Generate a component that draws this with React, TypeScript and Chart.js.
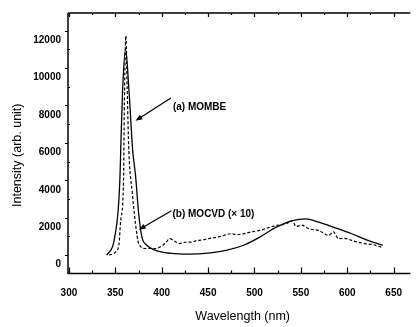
import React, { useEffect, useRef } from "react";
import { Chart, registerables } from "chart.js";

Chart.register(...registerables);

// (a) MOMBE – solid line
const mombeWavelength = [340.6, 346.9, 348.7, 353.3, 355.1, 355.8, 357.9, 361.1, 364.6, 368.8, 371.7, 375.2, 378.7, 384.0, 392.9, 410.5, 428.1, 452.8, 470.5, 488.2, 505.8, 523.4, 541.1, 555.2, 569.3, 587.0, 604.7, 622.3, 638.1];
const mombeIntensity = [0, 440, 790, 2550, 4310, 5545, 8890, 11000, 8890, 5545, 4310, 2200, 965, 530, 265, 90, 50, 120, 265, 530, 965, 1495, 1850, 1940, 1760, 1460, 1145, 790, 530];

// (b) MOCVD (x10) – dashed line
const mocvdWavelength = [343.4, 350.5, 354.0, 355.8, 359.0, 359.3, 360.0, 361.4, 362.8, 364.6, 368.1, 371.7, 375.2, 382.3, 392.9, 403.5, 408.8, 414.0, 419.4, 425.0, 431.6, 438.0, 445.8, 452.0, 459.9, 467.0, 474.0, 481.0, 488.2, 497.0, 505.8, 514.0, 523.4, 534.0, 541.1, 544.6, 551.0, 558.7, 569.3, 579.9, 585.0, 590.5, 597.0, 604.7, 611.0, 618.8, 628.0, 638.1];
const mocvdIntensity = [0, 175, 620, 1850, 4310, 6070, 8890, 11720, 8890, 5545, 3430, 1690, 620, 355, 355, 620, 880, 740, 620, 690, 700, 780, 830, 900, 965, 1050, 1145, 1100, 1145, 1250, 1320, 1450, 1585, 1675, 1850, 1530, 1600, 1410, 1320, 1055, 1250, 880, 900, 790, 700, 620, 560, 405];

const xTickValues = [300, 325, 350, 375, 400, 425, 450, 475, 500, 525, 550, 575, 600, 625, 650];
const yTickValues = [0, 1000, 2000, 3000, 4000, 5000, 6000, 7000, 8000, 9000, 10000, 11000, 12000];
const xRange = [299, 668];
const yRange = [-980, 12940];

const xTitle = "Wavelength (nm)";
const yTitle = "Intensity (arb. unit)";

// annotation anchor points in data units: text start, arrow start, arrow tip
const labelTexts = ["(a) MOMBE", "(b) MOCVD (× 10)"];
const labelAt = [[412.1, 7920], [411.6, 2165]];
const arrowFrom = [[409.9, 8395], [410.5, 2376]];
const arrowTo = [[371.7, 7180], [375.2, 1357]];

const FONT = "Arial, 'Liberation Sans', sans-serif";

const framePlugin = {
  id: "frame",
  afterDraw(chart: any) {
    const { ctx, chartArea } = chart;
    const xs = chart.scales.x;
    const ys = chart.scales.y;
    const { left, right, top, bottom } = chartArea;
    ctx.save();
    ctx.strokeStyle = "#000";
    ctx.fillStyle = "#000";
    ctx.lineWidth = 1.5;
    ctx.beginPath();
    ctx.moveTo(left, top);
    ctx.lineTo(left, bottom);
    ctx.lineTo(right, bottom);
    ctx.moveTo(left, top);
    ctx.lineTo(right, top);
    ctx.stroke();

    ctx.lineWidth = 1.2;
    ctx.beginPath();
    xTickValues.forEach((v) => {
      const px = Math.round(xs.getPixelForValue(v)) + 0.5;
      const major = v % 50 === 0;
      ctx.moveTo(px, bottom);
      ctx.lineTo(px, bottom - (major ? 6 : 3));
      ctx.moveTo(px, top);
      ctx.lineTo(px, top + (major ? 4 : 2));
    });
    yTickValues.forEach((v) => {
      const py = Math.round(ys.getPixelForValue(v)) + 0.5;
      const major = v % 2000 === 0;
      if (major) {
        ctx.moveTo(left - 3, py);
        ctx.lineTo(left, py);
      } else {
        ctx.moveTo(left, py);
        ctx.lineTo(left + 2, py);
      }
    });
    ctx.stroke();

    // axis titles
    ctx.font = `12.5px ${FONT}`;
    ctx.textAlign = "center";
    ctx.textBaseline = "middle";
    ctx.fillText(xTitle, (left + right) / 2 + 3.5, 316.5);
    ctx.save();
    ctx.translate(18, (top + bottom) / 2 + 12);
    ctx.rotate(-Math.PI / 2);
    ctx.fillText(yTitle, 0, 0);
    ctx.restore();

    // annotations
    ctx.font = `bold 10px ${FONT}`;
    ctx.textAlign = "left";
    labelTexts.forEach((t, i) => {
      const tx = xs.getPixelForValue(labelAt[i][0]);
      const ty = ys.getPixelForValue(labelAt[i][1]);
      ctx.fillText(t, tx, ty);
      const x0 = xs.getPixelForValue(arrowFrom[i][0]);
      const y0 = ys.getPixelForValue(arrowFrom[i][1]);
      const x1 = xs.getPixelForValue(arrowTo[i][0]);
      const y1 = ys.getPixelForValue(arrowTo[i][1]);
      const ang = Math.atan2(y1 - y0, x1 - x0);
      const hl = 7, hw = 2.6;
      ctx.lineWidth = 1.3;
      ctx.beginPath();
      ctx.moveTo(x0, y0);
      ctx.lineTo(x1 - Math.cos(ang) * hl * 0.8, y1 - Math.sin(ang) * hl * 0.8);
      ctx.stroke();
      ctx.beginPath();
      ctx.moveTo(x1, y1);
      ctx.lineTo(x1 - Math.cos(ang) * hl - Math.sin(ang) * hw, y1 - Math.sin(ang) * hl + Math.cos(ang) * hw);
      ctx.lineTo(x1 - Math.cos(ang) * hl + Math.sin(ang) * hw, y1 - Math.sin(ang) * hl - Math.cos(ang) * hw);
      ctx.closePath();
      ctx.fill();
    });
    ctx.restore();
  },
};

export default function App() {
  const canvasRef = useRef<HTMLCanvasElement | null>(null);

  useEffect(() => {
    const canvas = canvasRef.current;
    if (!canvas) return;
    const chart = new Chart(canvas, {
      type: "line",
      data: {
        datasets: [
          {
            label: "(a) MOMBE",
            data: mombeWavelength.map((x, i) => ({ x, y: mombeIntensity[i] })),
            borderColor: "#000",
            borderWidth: 1.3,
            pointRadius: 0,
            fill: false,
            cubicInterpolationMode: "monotone",
          },
          {
            label: "(b) MOCVD (× 10)",
            data: mocvdWavelength.map((x, i) => ({ x, y: mocvdIntensity[i] })),
            borderColor: "#000",
            borderWidth: 1.2,
            borderDash: [3, 2],
            pointRadius: 0,
            fill: false,
            cubicInterpolationMode: "monotone",
          },
        ],
      },
      options: {
        responsive: false,
        animation: false,
        devicePixelRatio: 1,
        layout: { padding: { top: 10, right: 0, left: 0, bottom: 0 } },
        plugins: { legend: { display: false }, tooltip: { enabled: false } },
        scales: {
          x: {
            type: "linear",
            min: xRange[0],
            max: xRange[1],
            grid: { display: false, drawTicks: false },
            border: { display: false },
            afterBuildTicks: (s: any) => {
              s.ticks = xTickValues.map((v) => ({ value: v }));
            },
            afterFit: (s: any) => {
              s.height = 53.5;
            },
            ticks: {
              autoSkip: false,
              maxRotation: 0,
              padding: 14,
              color: "#000",
              font: { family: FONT, size: 10, weight: "bold" },
              callback: (v: any) => (Number(v) % 50 === 0 ? String(v) : ""),
            },
          },
          y: {
            type: "linear",
            min: yRange[0],
            max: yRange[1],
            grid: { display: false, drawTicks: false },
            border: { display: false },
            afterBuildTicks: (s: any) => {
              s.ticks = yTickValues.map((v) => ({ value: v }));
            },
            afterFit: (s: any) => {
              s.width = 68;
            },
            ticks: {
              autoSkip: false,
              padding: 7,
              labelOffset: 9.5,
              color: "#000",
              font: { family: FONT, size: 10, weight: "bold" },
              callback: (v: any) => (Number(v) % 2000 === 0 ? String(v) : ""),
            },
          },
        },
      },
      plugins: [framePlugin],
    });
    return () => chart.destroy();
  }, []);

  return (
    <div style={{ position: "fixed", left: 0, top: 0, width: 416, height: 327, background: "#fff" }}>
      <canvas ref={canvasRef} width={416} height={327} style={{ display: "block" }} />
    </div>
  );
}
